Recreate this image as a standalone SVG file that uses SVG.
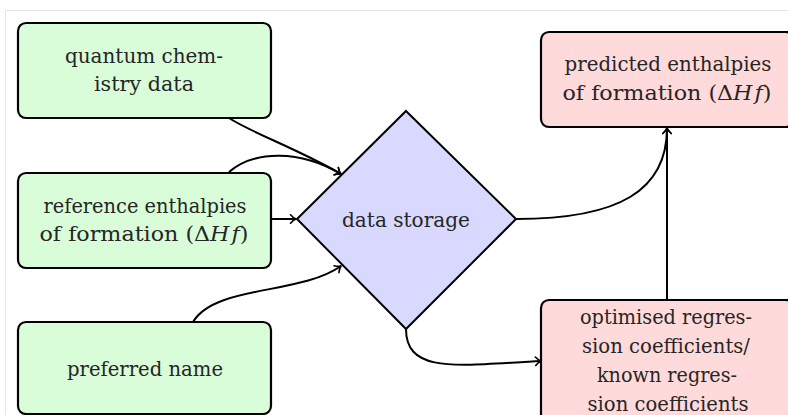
<svg xmlns="http://www.w3.org/2000/svg" width="788" height="415" viewBox="0 0 788 415">
<defs>
<marker id="arr" markerUnits="userSpaceOnUse" markerWidth="14" markerHeight="14" viewBox="-7 -7 14 14" refX="0" refY="0" orient="auto" overflow="visible">
<path d="M-5.5,-4.2 C-3.5,-1.8 -1.5,-0.6 0,0 C-1.5,0.6 -3.5,1.8 -5.5,4.2" fill="none" stroke="#000" stroke-width="1.6" stroke-linecap="round" stroke-linejoin="round"/>
</marker>
<style>
.green{fill:#d9fdd9;stroke:#000;stroke-width:2.2}
.red{fill:#ffdada;stroke:#000;stroke-width:2.2}
.blue{fill:#d9d9ff;stroke:#000;stroke-width:2}
.t{font-family:'DejaVu Serif',serif;font-size:21px;fill:#262626;text-anchor:middle}
.i{font-style:italic}
.c{fill:none;stroke:#000;stroke-width:2;marker-end:url(#arr)}
.frame{fill:none;stroke:#e4e4e4;stroke-width:1}
</style>
</defs>
<rect width="788" height="415" fill="#fff"/>
<path class="frame" d="M5.5,415 V10.5 H788"/>

<g id="connectors">
<path class="c" d="M229,118 C250,132 300,150 341,174"/>
<path class="c" d="M229,172 C255,150 300,150 341,174"/>
<path class="c" d="M271,219 L296,219"/>
<path class="c" d="M193,322 C215,285 300,295 341,266"/>
<path class="c" d="M516,219 C620,219 667,190 667,128"/>
<path class="c" d="M667,300 L667,128"/>
<path class="c" d="M406,329 C406,375 460,365 541,361"/>
</g>

<g id="quantum">
<rect class="green" x="18" y="23" width="253" height="95" rx="8"/>
<text class="t" x="144" y="63" textLength="158" lengthAdjust="spacingAndGlyphs">quantum chem-</text>
<text class="t" x="144" y="91" textLength="100" lengthAdjust="spacingAndGlyphs">istry data</text>
</g>

<g id="reference">
<rect class="green" x="18" y="173" width="253" height="95" rx="8"/>
<text class="t" x="145" y="213" textLength="203" lengthAdjust="spacingAndGlyphs">reference enthalpies</text>
<text class="t" x="144" y="241" textLength="209" lengthAdjust="spacingAndGlyphs">of formation (Δ<tspan class="i">H</tspan><tspan class="i" dx="2">f</tspan>)</text>
</g>

<g id="preferred">
<rect class="green" x="18" y="322" width="253" height="92" rx="8"/>
<text class="t" x="145" y="376" textLength="156" lengthAdjust="spacingAndGlyphs">preferred name</text>
</g>

<g id="storage">
<polygon class="blue" points="406,111 516,219 406,329 297,219"/>
<text class="t" x="406" y="227" textLength="128" lengthAdjust="spacingAndGlyphs">data storage</text>
</g>

<g id="predicted">
<rect class="red" x="541" y="32" width="253" height="95" rx="8"/>
<text class="t" x="668" y="71" textLength="207" lengthAdjust="spacingAndGlyphs">predicted enthalpies</text>
<text class="t" x="667" y="100" textLength="209" lengthAdjust="spacingAndGlyphs">of formation (Δ<tspan class="i">H</tspan><tspan class="i" dx="2">f</tspan>)</text>
</g>

<g id="optimised">
<rect class="red" x="541" y="300" width="253" height="130" rx="8"/>
<text class="t" x="666" y="324" textLength="172" lengthAdjust="spacingAndGlyphs">optimised regres-</text>
<text class="t" x="666" y="353" textLength="168" lengthAdjust="spacingAndGlyphs">sion coefficients/</text>
<text class="t" x="667" y="382" textLength="140" lengthAdjust="spacingAndGlyphs">known regres-</text>
<text class="t" x="668" y="411" textLength="161" lengthAdjust="spacingAndGlyphs">sion coefficients</text>
</g>
</svg>
